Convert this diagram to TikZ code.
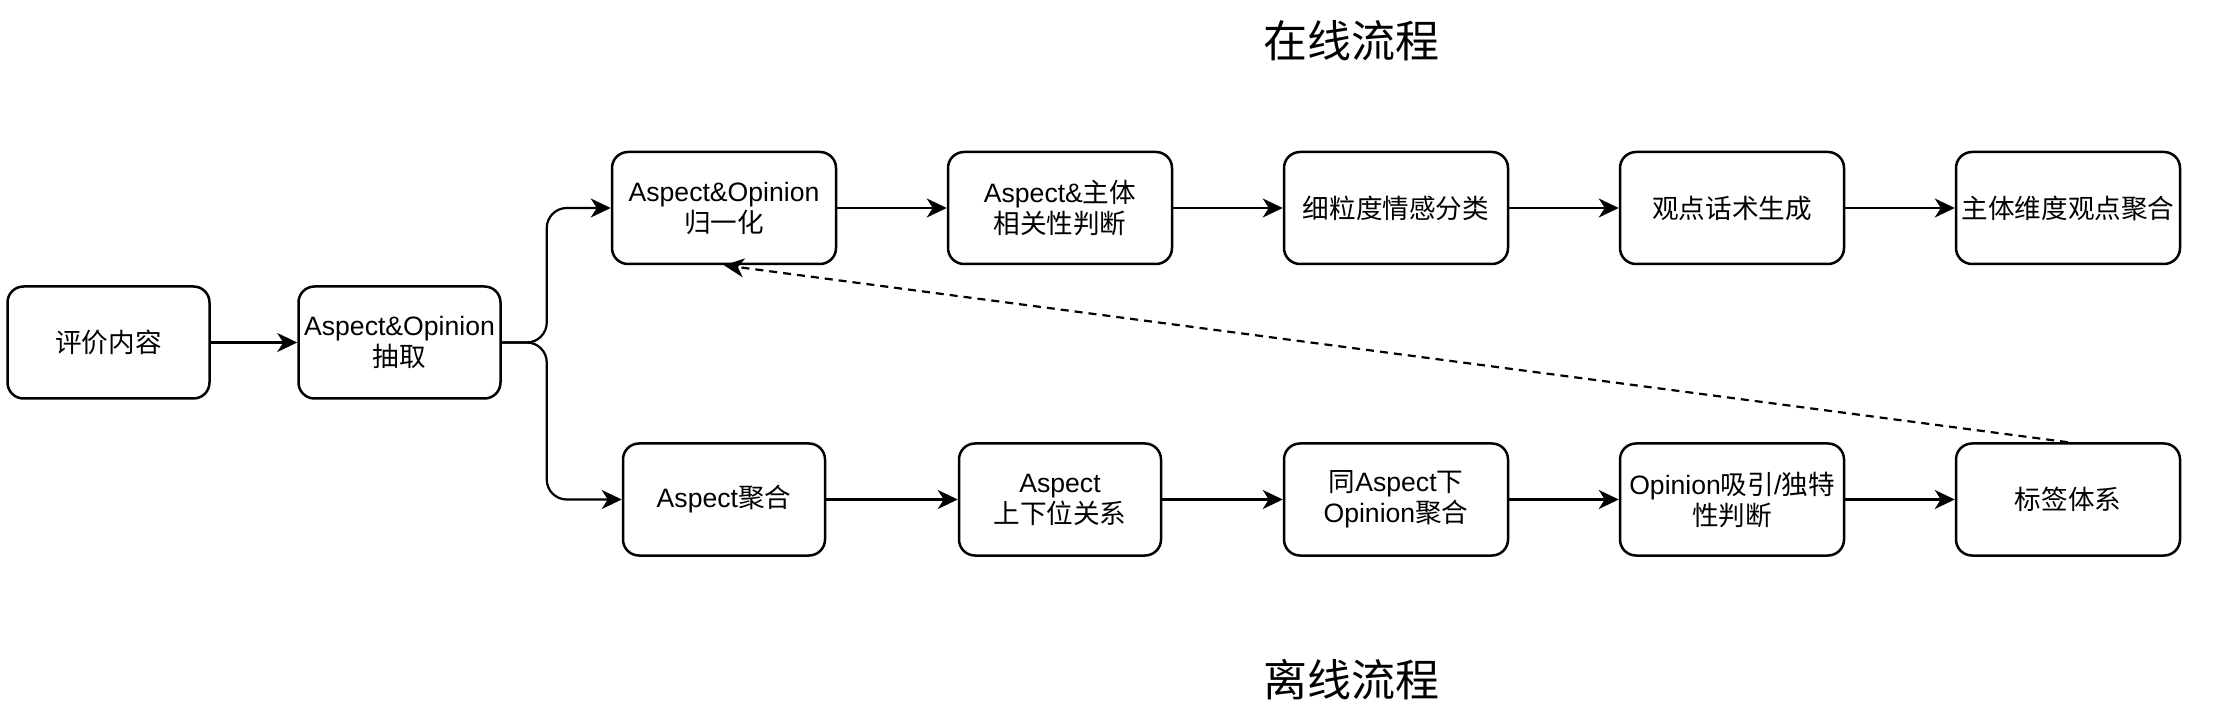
\documentclass[tikz,border=0pt]{standalone}
\usepackage{fontspec}
\setmainfont{Liberation Sans}
\newfontfamily\cjk{Noto Sans CJK SC}
\usetikzlibrary{arrows.meta}
\tikzset{
  box/.style={draw=black, line width=1.25pt, rounded corners=8pt, fill=white,
    minimum height=56pt, inner sep=0pt, align=center,
    font=\fontsize{13.3pt}{15.5pt}\selectfont},
  narrowbox/.style={box, minimum width=101pt},
  widebox/.style={box, minimum width=112pt},
  arr/.style={draw=black, line width=1.1pt, -{Stealth[length=10pt,width=9.5pt,inset=3pt]}},
  dasharr/.style={arr, dash pattern=on 4pt off 3pt},
  title/.style={font=\fontsize{22pt}{26pt}\selectfont\cjk, inner sep=0pt}
}
\begin{document}
\begin{tikzpicture}[x=0.5pt,y=-0.5pt]
\useasboundingbox (0,0) rectangle (2222,716);
\node[title] (t1) at (1351,41) {在线流程};
\node[title] (t2) at (1351,680) {离线流程};

\node[narrowbox] (A) at (108.5,342.5) {{\cjk 评价内容}};
\node[narrowbox] (B) at (399.5,342.5) {Aspect\&Opinion\\{\cjk 抽取}};

\node[widebox] (C) at (724,208) {Aspect\&Opinion\\{\cjk 归一化}};
\node[widebox] (D) at (1060,208) {Aspect\&{\cjk 主体}\\{\cjk 相关性判断}};
\node[widebox] (E) at (1396,208) {{\cjk 细粒度情感分类}};
\node[widebox] (F) at (1732,208) {{\cjk 观点话术生成}};
\node[widebox] (G) at (2068,208) {{\cjk 主体维度观点聚合}};

\node[narrowbox] (H) at (724,499.5) {Aspect{\cjk 聚合}};
\node[narrowbox] (I) at (1060,499.5) {Aspect\\{\cjk 上下位关系}};
\node[widebox] (J) at (1396,499.5) {{\cjk 同}Aspect{\cjk 下}\\Opinion{\cjk 聚合}};
\node[widebox] (K) at (1732,499.5) {Opinion{\cjk 吸引}/{\cjk 独特}\\{\cjk 性判断}};
\node[widebox] (L) at (2068,499.5) {{\cjk 标签体系}};

\draw[arr] (A) -- (B);
\draw[arr, rounded corners=10pt] (B.east) -- ++(45,0) |- (C.west);
\draw[arr, rounded corners=10pt] (B.east) -- ++(45,0) |- (H.west);
\draw[arr] (C) -- (D);
\draw[arr] (D) -- (E);
\draw[arr] (E) -- (F);
\draw[arr] (F) -- (G);
\draw[arr] (H) -- (I);
\draw[arr] (I) -- (J);
\draw[arr] (J) -- (K);
\draw[arr] (K) -- (L);
\draw[dasharr] (L.north) -- (C.south);
\end{tikzpicture}
\end{document}
